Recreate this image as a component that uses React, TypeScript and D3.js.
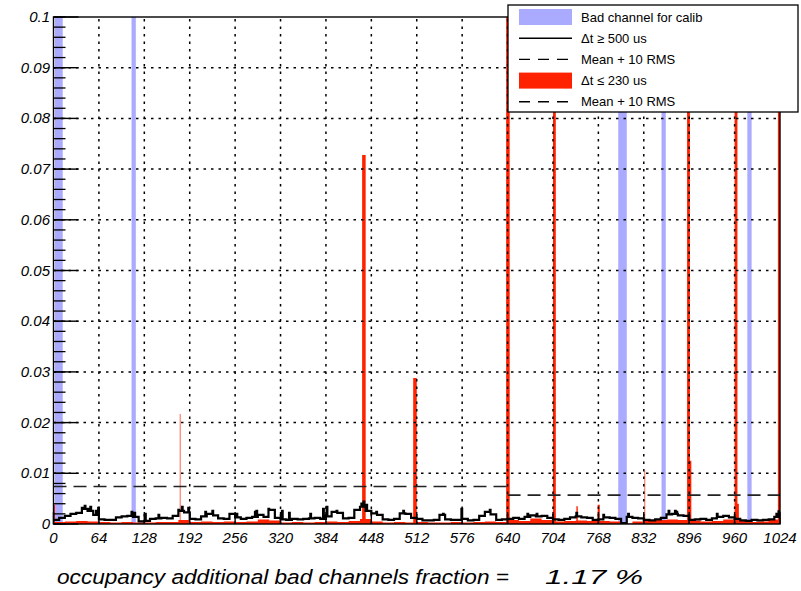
import * as d3 from "d3";

// channel range and axis values
const nChannels = 1024;
const xTicks = d3.range(0, 1025, 64);
const yTicks = d3.range(0, 0.1001, 0.01);
const yMinor = d3.range(0, 0.1001, 0.002);

// bad channels for calib (blue bands, channel ranges)
const badBands = [
  { from: 2, to: 13 },
  { from: 110, to: 116 },
  { from: 796, to: 808 },
  { from: 857, to: 863 },
  { from: 978, to: 984 },
];

// dt >= 500 us, occupancy in units of 1e-3, bins of 8 channels
const blackBins = [
  0.8, 1.2, 1.6, 2.0, 2.2, 3.0, 2.6, 1.8, 0.9, 0.8, 0.8, 1.3, 1.5, 1.6, 1.4, 0.5,
  0.6, 1.0, 1.1, 1.2, 1.1, 1.6, 2.6, 2.3, 1.0, 0.9, 1.5, 2.0, 1.7, 1.1, 1.0, 2.0,
  1.3, 1.0, 1.2, 1.4, 1.8, 1.4, 2.8, 1.2, 0.9, 0.8, 1.0, 0.9, 1.0, 1.1, 1.2, 1.0,
  1.5, 2.4, 2.2, 1.1, 1.2, 2.8, 3.4, 2.6, 2.1, 1.8, 0.9, 0.8, 1.0, 2.1, 2.0, 1.2,
  1.0, 0.7, 0.7, 0.8, 1.8, 0.9, 0.8, 0.8, 1.0, 0.7, 0.8, 1.6, 2.4, 1.9, 0.8, 0.9,
  1.0, 1.2, 1.0, 1.4, 1.7, 1.5, 1.6, 1.2, 0.9, 0.8, 1.0, 1.3, 1.5, 1.3, 1.2, 0.8,
  0.9, 1.3, 1.2, 1.0, 0.2, 1.4, 1.2, 1.1, 0.8, 0.7, 0.9, 1.2, 1.9, 2.0, 1.7, 1.6,
  0.8, 0.9, 1.0, 0.8, 1.1, 1.4, 1.6, 1.3, 1.0, 0.7, 0.6, 0.8, 0.7, 0.8, 0.9, 1.4,
];
// narrow spikes of the black histogram: [channel, value 1e-3]
const blackSpikes = [
  [40, 3.2], [44, 3.6], [49, 3.0], [52, 3.4], [60, 2.6], [63, 3.2], [110, 2.4],
  [114, 2.2], [129, 2.0], [148, 1.8], [176, 2.8], [181, 3.4], [190, 3.2],
  [214, 2.4], [224, 2.6], [258, 2.0], [284, 2.4], [286, 2.6], [303, 3.0],
  [322, 2.6], [332, 2.2], [362, 2.0], [380, 3.0], [385, 3.4], [399, 2.6],
  [434, 4.0], [437, 4.4], [441, 3.8], [455, 2.4], [493, 2.6], [549, 2.0],
  [575, 3.0], [615, 2.8], [668, 2.0], [681, 2.0], [737, 2.2], [775, 1.8],
  [810, 2.0], [867, 2.6], [876, 2.6], [878, 2.4], [935, 2.0], [1019, 2.0], [1022, 2.5],
];

// dt <= 230 us baseline, 1e-3, bins of 16 channels
const redBins = [
  0.4, 0.5, 0.6, 0.5, 0.4, 0.3, 0.4, 0.3, 0.3, 0.4, 0.4, 0.8, 0.4, 0.5, 0.4, 0.5,
  0.4, 0.5, 0.9, 0.7, 0.3, 0.4, 0.3, 0.4, 0.5, 0.4, 0.6, 1.0, 0.5, 0.3, 0.4, 0.3,
  0.4, 0.3, 0.3, 0.4, 0.3, 0.4, 0.5, 0.4, 0.8, 0.6, 1.1, 0.8, 0.5, 0.6, 0.7, 0.6,
  0.6, 0.5, 0.1, 0.5, 0.6, 0.8, 0.9, 0.8, 0.7, 0.5, 0.6, 0.9, 0.8, 0.4, 0.5, 0.9,
];
// red peaks: start channel, width in channels, value
const redPeaks = [
  { ch: 0, w: 2, v: 0.0038 },
  { ch: 178, w: 1, v: 0.0217 },
  { ch: 435, w: 5, v: 0.0728 },
  { ch: 507, w: 5, v: 0.0288 },
  { ch: 638, w: 5, v: 0.12 },
  { ch: 704, w: 4, v: 0.12 },
  { ch: 737, w: 2, v: 0.0035 },
  { ch: 767, w: 3, v: 0.0038 },
  { ch: 833, w: 1, v: 0.0106 },
  { ch: 893, w: 4, v: 0.12 },
  { ch: 897, w: 2, v: 0.0125 },
  { ch: 960, w: 4, v: 0.12 },
  { ch: 964, w: 2, v: 0.004 },
  { ch: 1021, w: 3, v: 0.12 },
];

// mean + 10 RMS thresholds
const thresholds = [
  { from: 0, to: 640, v: 0.0074 },
  { from: 640, to: 1024, v: 0.0057 },
];

const legendItems = [
  { label: "Bad channel for calib", kind: "blue" },
  { label: "Δt ≥ 500 us", kind: "line" },
  { label: "Mean + 10 RMS", kind: "dash" },
  { label: "Δt ≤ 230 us", kind: "red" },
  { label: "Mean + 10 RMS", kind: "dash" },
];

const BLUE = "#aaaaff";
const RED = "#ff2200";

export default function App() {
  const width = 801;
  const height = 591;
  const x = d3.scaleLinear().domain([0, nChannels]).range([53.5, 780]);
  const y = d3.scaleLinear().domain([0, 0.1]).range([524, 17]);

  const black = d3.range(nChannels).map((c) => blackBins[Math.floor(c / 8)] / 1000);
  blackSpikes.forEach(([c, v]) => (black[c] = v / 1000));
  const red = d3.range(nChannels).map((c) => redBins[Math.floor(c / 16)] / 1000);
  redPeaks.forEach((p) => {
    for (let c = p.ch; c < p.ch + p.w && c < nChannels; c++) red[c] = Math.max(red[c], p.v);
  });

  const step = (vals: number[]) => [...vals.map((v, i) => [i, v]), [nChannels, vals[nChannels - 1]]] as [number, number][];

  const linePath = d3
    .line<[number, number]>()
    .x((d) => x(d[0]))
    .y((d) => y(d[1]))
    .curve(d3.curveStepAfter)(step(black));
  const areaPath = d3
    .area<[number, number]>()
    .x((d) => x(d[0]))
    .y0(y(0))
    .y1((d) => y(d[1]))
    .curve(d3.curveStepAfter)(step(red));

  const font = "'Liberation Sans', Arial, sans-serif";
  const fmt = (v: number) => (v === 0 ? "0" : String(+v.toFixed(2)));

  return (
    <svg width={width} height={height} style={{ position: "absolute", left: 0, top: 0, background: "#fff" }}>
      <defs>
        <clipPath id="plot">
          <rect x={x(0)} y={y(0.1)} width={x(nChannels) - x(0)} height={y(0) - y(0.1) + 2} />
        </clipPath>
      </defs>
      <g clipPath="url(#plot)">
        {badBands.map((b, i) => (
          <rect key={i} x={x(b.from)} y={y(0.1)} width={x(b.to) - x(b.from)} height={y(0) - y(0.1)} fill={BLUE} />
        ))}
        <path d={areaPath ?? ""} fill={RED} />
      </g>
      {/* grid */}
      {xTicks.slice(1, -1).map((t) => (
        <line key={"gx" + t} x1={x(t)} x2={x(t)} y1={y(0)} y2={y(0.1)} stroke="#000" strokeDasharray="2.5,5" strokeWidth={1.5} />
      ))}
      {yTicks.slice(1, -1).map((t) => (
        <line key={"gy" + t} x1={x(0)} x2={x(nChannels)} y1={y(t)} y2={y(t)} stroke="#000" strokeDasharray="2.5,5" strokeWidth={1.5} />
      ))}
      {thresholds.map((t, i) => (
        <line key={"th" + i} x1={x(t.from)} x2={x(t.to)} y1={y(t.v)} y2={y(t.v)} stroke="#222" strokeDasharray="13,7" strokeWidth={1.6} />
      ))}
      <path d={linePath ?? ""} fill="none" stroke="#000" strokeWidth={2.2} clipPath="url(#plot)" />
      {/* frame */}
      <rect x={x(0)} y={y(0.1)} width={x(nChannels) - x(0)} height={y(0) - y(0.1)} fill="none" stroke="#000" strokeWidth={1.4} />
      {/* y ticks */}
      {yMinor.map((t) => (
        <line key={"my" + t} x1={x(0)} x2={x(0) + 12} y1={y(t)} y2={y(t)} stroke="#000" strokeWidth={1.3} />
      ))}
      {yTicks.map((t) => (
        <g key={"ty" + t}>
          <line x1={x(0)} x2={x(0) + 25} y1={y(t)} y2={y(t)} stroke="#000" strokeWidth={1.4} />
          <text x={50} y={y(t) + 5} textAnchor="end" fontFamily={font} fontStyle="italic" fontSize={15}>
            {fmt(t)}
          </text>
        </g>
      ))}
      {/* x ticks */}
      {xTicks.map((t) => (
        <g key={"tx" + t}>
          <line x1={x(t)} x2={x(t)} y1={y(0)} y2={y(0) - 12} stroke="#000" strokeWidth={1.4} />
          <text x={x(t)} y={543} textAnchor="middle" fontFamily={font} fontStyle="italic" fontSize={15}>
            {t}
          </text>
        </g>
      ))}
      {/* legend */}
      <g>
        <rect x={508} y={5} width={290} height={107} fill="#fff" stroke="#000" strokeWidth={1.3} />
        {legendItems.map((it, i) => {
          const cy = 17 + i * 21.2;
          return (
            <g key={"lg" + i}>
              {it.kind === "blue" && <rect x={519} y={cy - 8} width={53} height={16} fill={BLUE} />}
              {it.kind === "red" && <rect x={519} y={cy - 8} width={53} height={16} fill={RED} />}
              {it.kind === "line" && <line x1={519} x2={572} y1={cy} y2={cy} stroke="#000" strokeWidth={1.4} />}
              {it.kind === "dash" && (
                <line x1={519} x2={572} y1={cy} y2={cy} stroke="#000" strokeWidth={1.4} strokeDasharray="11,8" />
              )}
              <text x={581} y={cy + 4.5} fontFamily={font} fontSize={13}>
                {it.label}
              </text>
            </g>
          );
        })}
      </g>
      {/* bottom text */}
      <text x={57} y={584} fontFamily={font} fontStyle="italic" fontSize={20} textLength={452} lengthAdjust="spacingAndGlyphs">
        occupancy additional bad channels fraction =
      </text>
      <text x={545} y={584} fontFamily={font} fontStyle="italic" fontSize={20} textLength={98} lengthAdjust="spacingAndGlyphs">
        1.17 %
      </text>
    </svg>
  );
}
